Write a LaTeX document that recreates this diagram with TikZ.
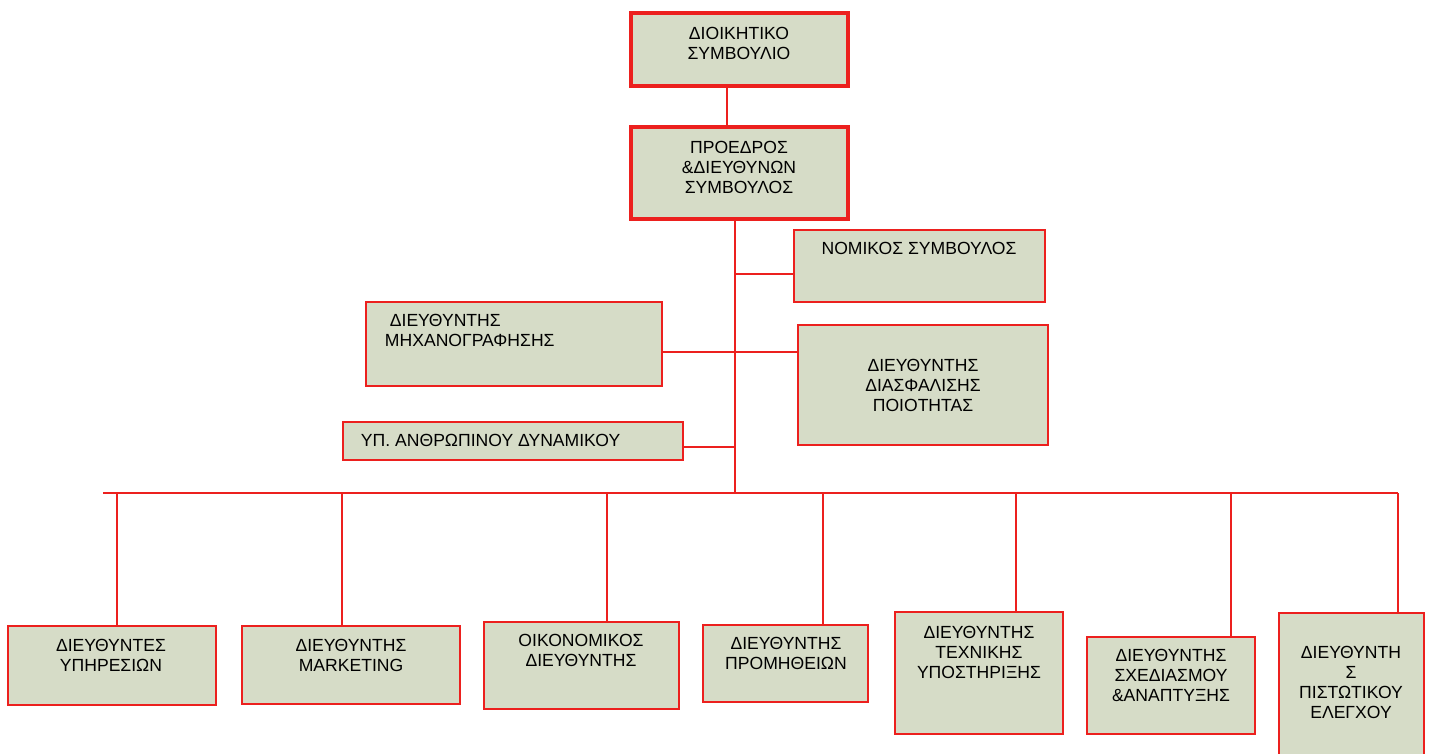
\documentclass[tikz,border=0pt]{standalone}
\usepackage{fontspec}
\setmainfont{Liberation Sans}
\usetikzlibrary{calc,positioning}
\definecolor{boxfill}{RGB}{214,220,199}
\definecolor{boxred}{RGB}{236,32,30}

\begin{document}
\begin{tikzpicture}[x=0.025cm, y=-0.025cm, line width=1.4pt,
  font=\fontsize{12.5}{14.2}\selectfont]
% Box and line styles
\tikzstyle{box}=[draw=boxred, fill=boxfill, line width=1.6pt, outer sep=0pt, inner sep=0pt]
\tikzstyle{topbox}=[box, line width=2.4pt]
\tikzstyle{lbl}=[align=center, inner sep=0pt, text=black]
\tikzstyle{conn}=[draw=boxred, line width=1.4pt]

\useasboundingbox (0,0) rectangle (1432,754);

% Blocks
\node[topbox, minimum width=5.425cm, minimum height=1.825cm] (board) at (739.5,49.5) {};
\node[topbox, minimum width=5.425cm, minimum height=2.3cm] (pres) at (739.5,173) {};
\node[box, minimum width=6.275cm, minimum height=1.8cm] (nomikos) at (919.5,266) {};
\node[box, minimum width=7.4cm, minimum height=2.1cm] (mixan) at (514,344) {};
\node[box, minimum width=6.25cm, minimum height=3cm] (poiot) at (923,385) {};
\node[box, minimum width=8.5cm, minimum height=0.95cm] (ypa) at (513,441) {};

\node[box, minimum width=5.2cm, minimum height=1.975cm] (ypir) at (112,665.5) {};
\node[box, minimum width=5.45cm, minimum height=1.95cm] (mark) at (351,665) {};
\node[box, minimum width=4.875cm, minimum height=2.175cm] (oik) at (581.5,665.5) {};
\node[box, minimum width=4.125cm, minimum height=1.925cm] (prom) at (785.5,663.5) {};
\node[box, minimum width=4.2cm, minimum height=3.05cm] (tech) at (979,673) {};
\node[box, minimum width=4.2cm, minimum height=2.425cm] (sxed) at (1171,685.5) {};
\node[box, minimum width=3.625cm, minimum height=3.8cm] (pist) at (1351.5,689) {};

% Texts
\node[lbl] (boardtxt) at (739,43) {ΔΙΟΙΚΗΤΙΚΟ\\ΣΥΜΒΟΥΛΙΟ};
\node[lbl] (prestxt) at (739,167) {ΠΡΟΕΔΡΟΣ\\\&ΔΙΕΥΘΥΝΩΝ\\ΣΥΜΒΟΥΛΟΣ};
\node[lbl] (nomikostxt) at (919,248) {ΝΟΜΙΚΟΣ ΣΥΜΒΟΥΛΟΣ};
\node[lbl, align=left, anchor=west] (mixantxt) at (384,330) {\ ΔΙΕΥΘΥΝΤΗΣ\\ΜΗΧΑΝΟΓΡΑΦΗΣΗΣ};
\node[lbl] (poiottxt) at (923,385) {ΔΙΕΥΘΥΝΤΗΣ\\ΔΙΑΣΦΑΛΙΣΗΣ\\ΠΟΙΟΤΗΤΑΣ};
\node[lbl, anchor=west] (ypatxt) at (360,440) {ΥΠ. ΑΝΘΡΩΠΙΝΟΥ ΔΥΝΑΜΙΚΟΥ};

\node[lbl] (ypirtxt) at (111,655) {ΔΙΕΥΘΥΝΤΕΣ\\ΥΠΗΡΕΣΙΩΝ};
\node[lbl] (marktxt) at (351,655) {ΔΙΕΥΘΥΝΤΗΣ\\MARKETING};
\node[lbl] (oiktxt) at (581,650) {ΟΙΚΟΝΟΜΙΚΟΣ\\ΔΙΕΥΘΥΝΤΗΣ};
\node[lbl] (promtxt) at (786,653) {ΔΙΕΥΘΥΝΤΗΣ\\ΠΡΟΜΗΘΕΙΩΝ};
\node[lbl] (techtxt) at (979,652) {ΔΙΕΥΘΥΝΤΗΣ\\ΤΕΧΝΙΚΗΣ\\ΥΠΟΣΤΗΡΙΞΗΣ};
\node[lbl] (sxedtxt) at (1171,675) {ΔΙΕΥΘΥΝΤΗΣ\\ΣΧΕΔΙΑΣΜΟΥ\\\&ΑΝΑΠΤΥΞΗΣ};
\node[lbl] (pisttxt) at (1351,682) {ΔΙΕΥΘΥΝΤΗ\\Σ\\ΠΙΣΤΩΤΙΚΟΥ\\ΕΛΕΓΧΟΥ};

% Connectors
\coordinate (bus) at (735,493);
\coordinate (busl) at (103,493);
\coordinate (busr) at (1398,493);
\draw[conn] ($(board.south)+(-12.5,0)$) coordinate (b0) -- (b0 |- pres.north);
\draw[conn] ($(pres.south)+(-4.5,0)$) coordinate (t0) -- (t0 |- bus);
\draw[conn] (busl) -- (busr);
\draw[conn] ($(nomikos.west)+(0,8)$) coordinate (n1) -- (n1 -| bus);
\draw[conn] ($(mixan.east)+(0,8)$) -- ($(poiot.west)+(0,-33)$);
\draw[conn] ($(ypa.east)+(0,6)$) coordinate (y1) -- (y1 -| bus);

\foreach \b/\dx in {ypir/5, mark/-9, oik/25.5, prom/37.5, tech/37, sxed/60, pist/46.5}
\draw[conn] ($(\b.north)+(\dx,0)$) coordinate (p) -- (p |- bus);
\end{tikzpicture}
\end{document}
